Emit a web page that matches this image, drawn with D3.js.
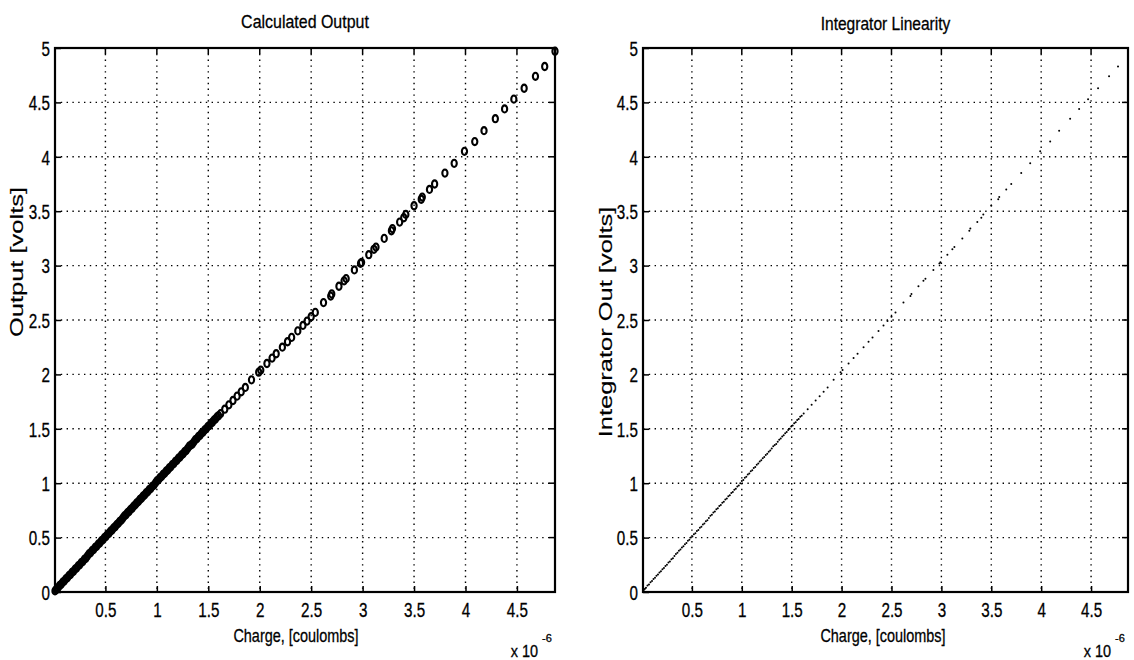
<!DOCTYPE html>
<html><head><meta charset="utf-8">
<script src="https://cdn.jsdelivr.net/npm/d3@7"></script>
<style>
body{margin:0;background:#fff;}
svg{display:block;}
text{font-family:"Liberation Sans",Arial,sans-serif;fill:#000;stroke:#000;stroke-width:0.3px;}
</style></head><body>
<svg id="c" width="1134" height="660"></svg>
<script>
// Charge in units of 1e-6 coulombs
const charge = [4.87,4.77,4.68,4.57,4.47,4.38,4.29,4.18,4.09,3.99,3.89,3.80,3.70,3.65,3.58,3.57,3.50,3.42,3.40,3.36,3.29,3.28,3.21,3.13,3.11,3.06,2.99,2.98,2.92,2.84,2.82,2.77,2.70,2.69,2.62,2.54,2.50,2.46,
2.42,2.37,2.31,2.27,2.22,2.16,2.12,2.07,2.01,1.99,1.92,1.86,1.82,1.78,1.74,1.70,1.66,1.62,
1.60,1.585,1.57,1.555,1.54,1.525,1.51,1.495,1.48,1.465,1.45,1.435,1.42,1.405,1.39,1.375,1.36,1.345,1.33,1.315,1.30,1.285,1.27,1.255,1.24,1.225,1.21,1.195,1.18,1.165,1.15,1.135,1.12,1.105,1.09,1.075,1.06,1.045,1.03,1.015,1.00,0.985,0.97,0.955,0.94,0.925,0.91,0.895,0.88,0.865,0.85,0.835,0.82,0.805,0.79,0.775,0.76,0.745,0.73,0.715,0.70,0.685,0.67,0.655,0.64,0.625,0.61,0.595,0.58,0.565,0.55,0.535,0.52,0.505,0.49,0.475,0.46,0.445,0.43,0.415,0.40,0.385,0.37,0.355,0.34,0.325,0.31,0.295,0.28,0.265,0.25,0.235,0.22,0.205,0.19,0.175,0.16,0.145,0.13,0.115,0.10,0.085,0.07,0.055,0.04,0.03,0.02,0.01];
// Output in volts
const output = [4.97,4.83,4.74,4.63,4.53,4.44,4.35,4.24,4.14,4.05,3.94,3.85,3.75,3.70,3.63,3.61,3.55,3.47,3.44,3.40,3.34,3.32,3.25,3.17,3.15,3.10,3.03,3.02,2.96,2.88,2.86,2.81,2.74,2.72,2.66,2.57,2.53,2.49,
2.45,2.40,2.34,2.30,2.25,2.19,2.15,2.10,2.04,2.02,1.95,1.88,1.84,1.80,1.76,1.72,1.68,1.64,
1.62,1.61,1.59,1.58,1.56,1.55,1.53,1.52,1.50,1.49,1.47,1.46,1.44,1.43,1.41,1.40,1.38,1.36,1.35,1.34,1.32,1.30,1.29,1.27,1.26,1.24,1.23,1.21,1.20,1.18,1.17,1.15,1.14,1.12,1.11,1.09,1.08,1.06,1.05,1.03,1.02,1.00,0.98,0.97,0.95,0.94,0.92,0.91,0.89,0.88,0.86,0.85,0.83,0.82,0.80,0.79,0.77,0.76,0.74,0.73,0.71,0.70,0.68,0.66,0.65,0.63,0.62,0.60,0.59,0.57,0.56,0.54,0.53,0.51,0.50,0.48,0.47,0.45,0.44,0.42,0.41,0.39,0.38,0.36,0.35,0.33,0.31,0.30,0.28,0.27,0.25,0.24,0.22,0.21,0.19,0.18,0.16,0.15,0.13,0.12,0.10,0.09,0.07,0.06,0.04,0.03,0.02,0.01];
const xTicks = [0.5,1,1.5,2,2.5,3,3.5,4,4.5];
const xTickLabels = ["0.5","1","1.5","2","2.5","3","3.5","4","4.5"];
const yTicks = [0,0.5,1,1.5,2,2.5,3,3.5,4,4.5,5];
const yTickLabels = ["0","0.5","1","1.5","2","2.5","3","3.5","4","4.5","5"];
const xDomain = [0.01,4.87];
const yDomain = [0,5];
const titles = ["Calculated Output","Integrator Linearity"];
const yLabels = ["Output [volts]","Integrator Out [volts]"];
const xLabel = "Charge, [coulombs]";
const expBase = "x 10", expPow = "-6";

const svg = d3.select("#c");
function condense(sel, f){
  sel.each(function(){
    const w = this.getComputedTextLength();
    d3.select(this).attr("textLength", w*f).attr("lengthAdjust","spacingAndGlyphs");
  });
}
const panels = [
  {x0:55, x1:555, y0:48, y1:592, title:titles[0], ylab:yLabels[0], ylabX:23, ylabY:262, xlabX:296, marker:"o", titleY:28, titleSize:19},
  {x0:643, x1:1128, y0:48, y1:592, title:titles[1], ylab:yLabels[1], ylabX:612, ylabY:322, xlabX:883, marker:".", titleY:30, titleSize:18.5}
];
const data = charge.map((c,i)=>({c, v:output[i]}));

panels.forEach(p=>{
  const x = d3.scaleLinear().domain(xDomain).range([p.x0,p.x1]);
  const y = d3.scaleLinear().domain(yDomain).range([p.y1,p.y0]);
  const g = svg.append("g");
  // grid
  g.append("g").selectAll("line").data(xTicks).join("line")
    .attr("x1",d=>x(d)).attr("x2",d=>x(d)).attr("y1",p.y0).attr("y2",p.y1)
    .attr("stroke","#000").attr("stroke-width",1.4).attr("stroke-dasharray","1.4,4.4");
  g.append("g").selectAll("line").data(yTicks.filter(d=>d>0&&d<5)).join("line")
    .attr("x1",p.x0).attr("x2",p.x1).attr("y1",d=>y(d)).attr("y2",d=>y(d))
    .attr("stroke","#000").attr("stroke-width",1.4).attr("stroke-dasharray","1.4,4.4");
  // axes
  const ax = d3.axisBottom(x).tickValues(xTicks).tickFormat((d,i)=>xTickLabels[i]).tickSizeInner(-6).tickSizeOuter(0).tickPadding(11);
  const gx = g.append("g").attr("transform",`translate(0,${p.y1})`).call(ax);
  const ay = d3.axisLeft(y).tickValues(yTicks).tickFormat((d,i)=>yTickLabels[i]).tickSizeInner(-6).tickSizeOuter(0).tickPadding(5);
  const gy = g.append("g").attr("transform",`translate(${p.x0},0)`).call(ay);
  [gx,gy].forEach(a=>{
    a.select(".domain").remove();
    a.selectAll(".tick line").attr("stroke","#000").attr("stroke-width",1.5);
    a.selectAll("text").attr("font-family",null).attr("font-size",null).style("font-size","20px");
  });
  gx.selectAll("text").attr("dy","0.72em");
  gy.selectAll("text").attr("dy","0.36em");
  condense(gx.selectAll("text"),0.76);
  condense(gy.selectAll("text"),0.76);
  // opposite ticks
  g.append("g").selectAll("line").data(xTicks).join("line")
    .attr("x1",d=>x(d)).attr("x2",d=>x(d)).attr("y1",p.y0).attr("y2",p.y0+6).attr("stroke","#000").attr("stroke-width",1.5);
  g.append("g").selectAll("line").data(yTicks).join("line")
    .attr("x1",p.x1).attr("x2",p.x1-6).attr("y1",d=>y(d)).attr("y2",d=>y(d)).attr("stroke","#000").attr("stroke-width",1.5);
  // frame
  g.append("rect").attr("x",p.x0).attr("y",p.y0).attr("width",p.x1-p.x0).attr("height",p.y1-p.y0)
    .attr("fill","none").attr("stroke","#000").attr("stroke-width",2.2);
  // data
  if(p.marker==="o"){
    g.append("g").selectAll("ellipse").data(data).join("ellipse")
      .attr("cx",d=>x(d.c)).attr("cy",d=>y(d.v)).attr("rx",2.6).attr("ry",3.6)
      .attr("fill","none").attr("stroke","#000").attr("stroke-width",2.1);
  } else {
    g.append("g").selectAll("circle").data(data).join("circle")
      .attr("cx",d=>x(d.c)).attr("cy",d=>y(d.v)).attr("r",1.0).attr("fill","#000");
  }
  // title
  const t = g.append("text").attr("x",(p.x0+p.x1)/2).attr("y",p.titleY).attr("text-anchor","middle")
    .style("font-size",p.titleSize+"px").text(p.title);
  condense(t,0.84);
  // x label
  const xl = g.append("text").attr("x",p.xlabX).attr("y",642).attr("text-anchor","middle")
    .style("font-size","19px").text(xLabel);
  condense(xl,0.76);
  // exponent
  const eb = g.append("text").attr("x",p.x1-17).attr("y",657).attr("text-anchor","end").style("font-size","17px").text(expBase);
  condense(eb,0.85);
  g.append("text").attr("x",p.x1-13).attr("y",642).attr("text-anchor","start").style("font-size","11px").text(expPow);
  // y label
  const yl = g.append("text").attr("transform",`translate(${p.ylabX},${p.ylabY}) rotate(-90)`)
    .attr("text-anchor","middle").style("font-size","19px").style("stroke-width","0.15px").text(p.ylab);
  condense(yl,1.34);
});
</script>
</body></html>
